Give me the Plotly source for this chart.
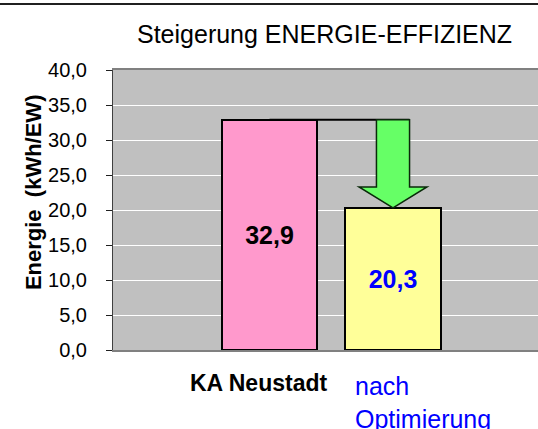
import plotly.graph_objects as go

categories = ["KA Neustadt", "nach Optimierung"]
values = [32.9, 20.3]
bar_colors = ["#FF99CC", "#FFFF99"]
text_colors = ["black", "#0000FF"]
y_ticks = [0, 5, 10, 15, 20, 25, 30, 35, 40]
title_text = "Steigerung ENERGIE-EFFIZIENZ"
y_title = "Energie  (kWh/EW)"

FONT = "Liberation Sans, Arial, sans-serif"
xpos = list(range(len(categories)))
BAR_W = 0.77

fig = go.Figure()
fig.add_trace(go.Bar(
    x=xpos, y=values, width=BAR_W,
    marker=dict(color=bar_colors, line=dict(color="black", width=2)),
    text=values, texttemplate="<b>%{y:.1f}</b>",
    textposition="inside", insidetextanchor="middle",
    textfont=dict(family=FONT, size=25, color=text_colors),
    hoverinfo="skip", showlegend=False,
))

# arrow from first bar level down to second bar
top, tip = values[0], values[1]
c = xpos[1]
sw, hw, hh = 0.134, 0.275, 3.0
path = (f"M {c-sw},{top} L {c+sw},{top} L {c+sw},{tip+hh} L {c+hw},{tip+hh} "
        f"L {c},{tip} L {c-hw},{tip+hh} L {c-sw},{tip+hh} Z")
shapes = [
    dict(type="line", xref="x", yref="y", x0=xpos[0], x1=c + sw, y0=top, y1=top,
         line=dict(color="black", width=2), layer="below"),
    dict(type="path", xref="x", yref="y", path=path, fillcolor="#66FF66",
         line=dict(color="#0A2A0A", width=1.5)),
    dict(type="line", xref="paper", yref="paper", x0=-0.27, x1=1.0, y0=1.236, y1=1.236,
         line=dict(color="#202020", width=2)),
]

annotations = [
    dict(x=0.498, y=1.129, xref="paper", yref="paper", text=title_text,
         showarrow=False, xanchor="center", yanchor="middle",
         font=dict(family=FONT, size=25, color="black")),
    dict(x=-0.188, y=0.5, xref="paper", yref="paper", text="<b>" + y_title + "</b>",
         textangle=-90, showarrow=False, xanchor="center", yanchor="middle",
         yshift=18, font=dict(family=FONT, size=22, color="black")),
    dict(x=xpos[0] - 0.085, y=-0.118, xref="x", yref="paper", text="<b>KA Neustadt</b>",
         showarrow=False, xanchor="center", yanchor="middle",
         font=dict(family=FONT, size=23, color="black")),
    dict(x=xpos[1] - 0.325, y=-0.07, xref="x", yref="paper", text="nach<br>Optimierung",
         showarrow=False, xanchor="left", yanchor="top", align="left",
         font=dict(family=FONT, size=25, color="#0000FF")),
]

fig.update_layout(
    width=538, height=429,
    margin=dict(l=113, r=0, t=70, b=79),
    paper_bgcolor="white", plot_bgcolor="#C0C0C0",
    separators=",.",
    xaxis=dict(range=[-1.267, 2.174], showticklabels=False, showgrid=False, zeroline=False,
               showline=True, linecolor="#808080", linewidth=2, mirror=True, ticks="",
               automargin=False),
    yaxis=dict(range=[0, 40], tickvals=y_ticks, tickformat=".1f", showgrid=True,
               gridcolor="white", gridwidth=1, zeroline=False,
               showline=True, linecolor="#404040", linewidth=1,
               ticks="outside", ticklen=6, tickcolor="#202020",
               ticklabelstandoff=15,
               tickfont=dict(family=FONT, size=20, color="black"),
               automargin=False),
    shapes=shapes, annotations=annotations,
    bargap=0,
)

fig.write_html("out.html", config={"displayModeBar": False},
               post_script="document.body.style.margin='0px';")
